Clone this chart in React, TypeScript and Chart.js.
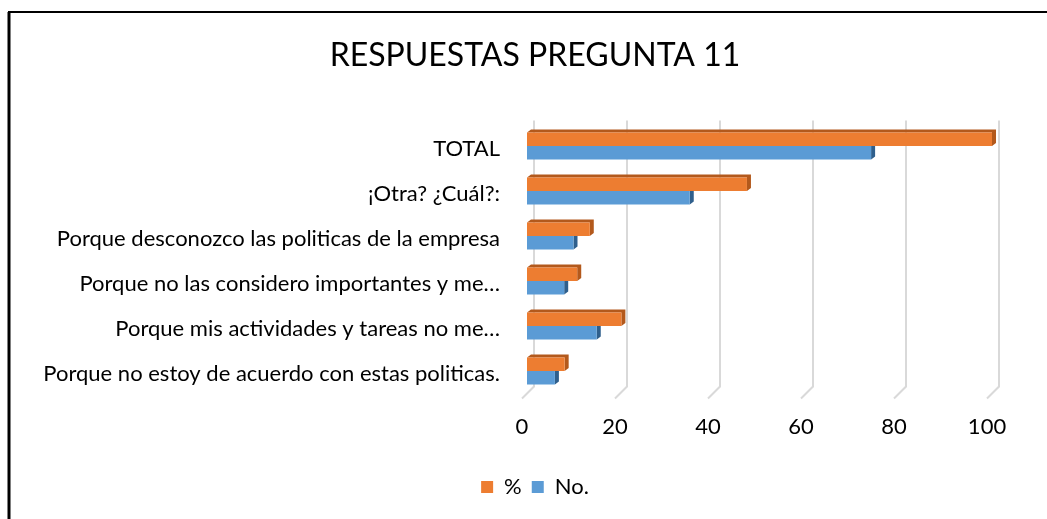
import React, { useEffect, useRef } from "react";
import { Chart, registerables } from "chart.js";

Chart.register(...registerables);

const categories = [
  "TOTAL",
  "¡Otra? ¿Cuál?:",
  "Porque desconozco las politicas de la empresa",
  "Porque no las considero importantes y me…",
  "Porque mis actividades y tareas no me…",
  "Porque no estoy de acuerdo con estas politicas.",
];
const pctValues = [100, 47.3, 13.5, 10.8, 20.3, 8.1];
const numValues = [74, 35, 10, 8, 15, 6];
const seriesNames = ["%", "No."];
const xTicks = [0, 20, 40, 60, 80, 100];
// the plot's back wall runs a little past the last tick (Excel 3-D layout)
const X_AXIS_MAX = 110.32;

const FONT = "Lato, 'Open Sans', sans-serif";
const ORANGE = "#ED7D31";
const ORANGE_DARK = "#B3591C";
const BLUE = "#5B9BD5";
const BLUE_DARK = "#2F5F8C";

const framePlugin = {
  id: "frame",
  beforeDraw(chart: any) {
    const ctx = chart.ctx;
    ctx.save();
    ctx.fillStyle = "#ffffff";
    ctx.fillRect(0, 0, chart.width, chart.height);
    ctx.strokeStyle = "#000000";
    ctx.lineWidth = 3;
    ctx.beginPath();
    ctx.moveTo(9, chart.height + 5);
    ctx.lineTo(9, 12);
    ctx.stroke();
    ctx.lineWidth = 2;
    ctx.beginPath();
    ctx.moveTo(8, 12);
    ctx.lineTo(chart.width + 5, 12);
    ctx.stroke();
    ctx.restore();
  },
};

const depthPlugin = {
  id: "depth3d",
  beforeDatasetsDraw(chart: any) {
    const ctx = chart.ctx;
    const xs = chart.scales.x;
    const area = chart.chartArea;
    ctx.save();
    // back-wall gridlines with floor slant
    ctx.strokeStyle = "#d9d9d9";
    ctx.lineWidth = 2;
    xTicks.forEach((v) => {
      const px = xs.getPixelForValue(v);
      ctx.beginPath();
      ctx.moveTo(px + 7, area.top - 3);
      ctx.lineTo(px + 7, area.bottom - 7);
      ctx.lineTo(px - 5, area.bottom + 5);
      ctx.stroke();
    });
    // extrusions
    const dx = 4;
    const dy = 3;
    const darks = [ORANGE_DARK, BLUE_DARK];
    [1, 0].forEach((di) => {
      const meta = chart.getDatasetMeta(di);
      ctx.fillStyle = darks[di];
      meta.data.forEach((bar: any) => {
        const { x, y, base, height } = bar.getProps(["x", "y", "base", "height"], true);
        const top = y - height / 2;
        const bottom = y + height / 2;
        ctx.beginPath();
        ctx.moveTo(base, top);
        ctx.lineTo(base + dx, top - dy);
        ctx.lineTo(x + dx, top - dy);
        ctx.lineTo(x + dx, bottom - dy);
        ctx.lineTo(x, bottom);
        ctx.lineTo(x, top);
        ctx.closePath();
        ctx.fill();
      });
    });
    ctx.restore();
  },
};

export default function App() {
  const ref = useRef<HTMLCanvasElement>(null);
  useEffect(() => {
    if (!ref.current) return;
    const chart = new Chart(ref.current, {
      type: "bar",
      data: {
        labels: categories,
        datasets: [
          {
            label: seriesNames[0],
            data: pctValues,
            backgroundColor: ORANGE,
            borderWidth: 0,
            categoryPercentage: 0.6,
            barPercentage: 1.0,
          },
          {
            label: seriesNames[1],
            data: numValues,
            backgroundColor: BLUE,
            borderWidth: 0,
            categoryPercentage: 0.6,
            barPercentage: 1.0,
          },
        ],
      },
      options: {
        indexAxis: "y",
        responsive: false,
        animation: false,
        layout: { padding: { left: 30, right: 7, top: 0, bottom: 11 } },
        scales: {
          x: {
            min: 0,
            max: X_AXIS_MAX,
            ticks: {
              stepSize: 20,
              includeBounds: false,
              autoSkip: false,
              color: "#000",
              font: { family: FONT, size: 22 },
              padding: 20,
              labelOffset: -5,
            },
            afterBuildTicks: (s: any) => {
              s.ticks = xTicks.map((v) => ({ value: v }));
            },
            grid: { display: false, drawTicks: false },
            border: { display: false },
            afterFit: (s: any) => {
              s.height = 72.5;
            },
          },
          y: {
            ticks: {
              color: "#000",
              font: { family: FONT, size: 22 },
              padding: 27,
              labelOffset: 3,
              autoSkip: false,
            },
            grid: { display: false, drawTicks: false },
            border: { display: false },
            afterFit: (s: any) => {
              s.width = 497;
            },
          },
        },
        plugins: {
          title: {
            display: true,
            text: "RESPUESTAS PREGUNTA 11",
            color: "#000",
            font: { family: FONT, size: 32, weight: "normal" },
            padding: { top: 36, bottom: 49.1 },
          },
          legend: {
            position: "bottom",
            labels: {
              color: "#000",
              font: { family: FONT, size: 22 },
              boxWidth: 12,
              boxHeight: 12,
              padding: 10,
            },
          },
          tooltip: { enabled: false },
        },
      },
      plugins: [framePlugin, depthPlugin],
    });
    return () => chart.destroy();
  }, []);
  return (
    <div style={{ position: "absolute", left: 0, top: 0, width: 1047, height: 519, overflow: "hidden" }}>
      <canvas ref={ref} width={1047} height={519} style={{ display: "block" }} />
    </div>
  );
}
